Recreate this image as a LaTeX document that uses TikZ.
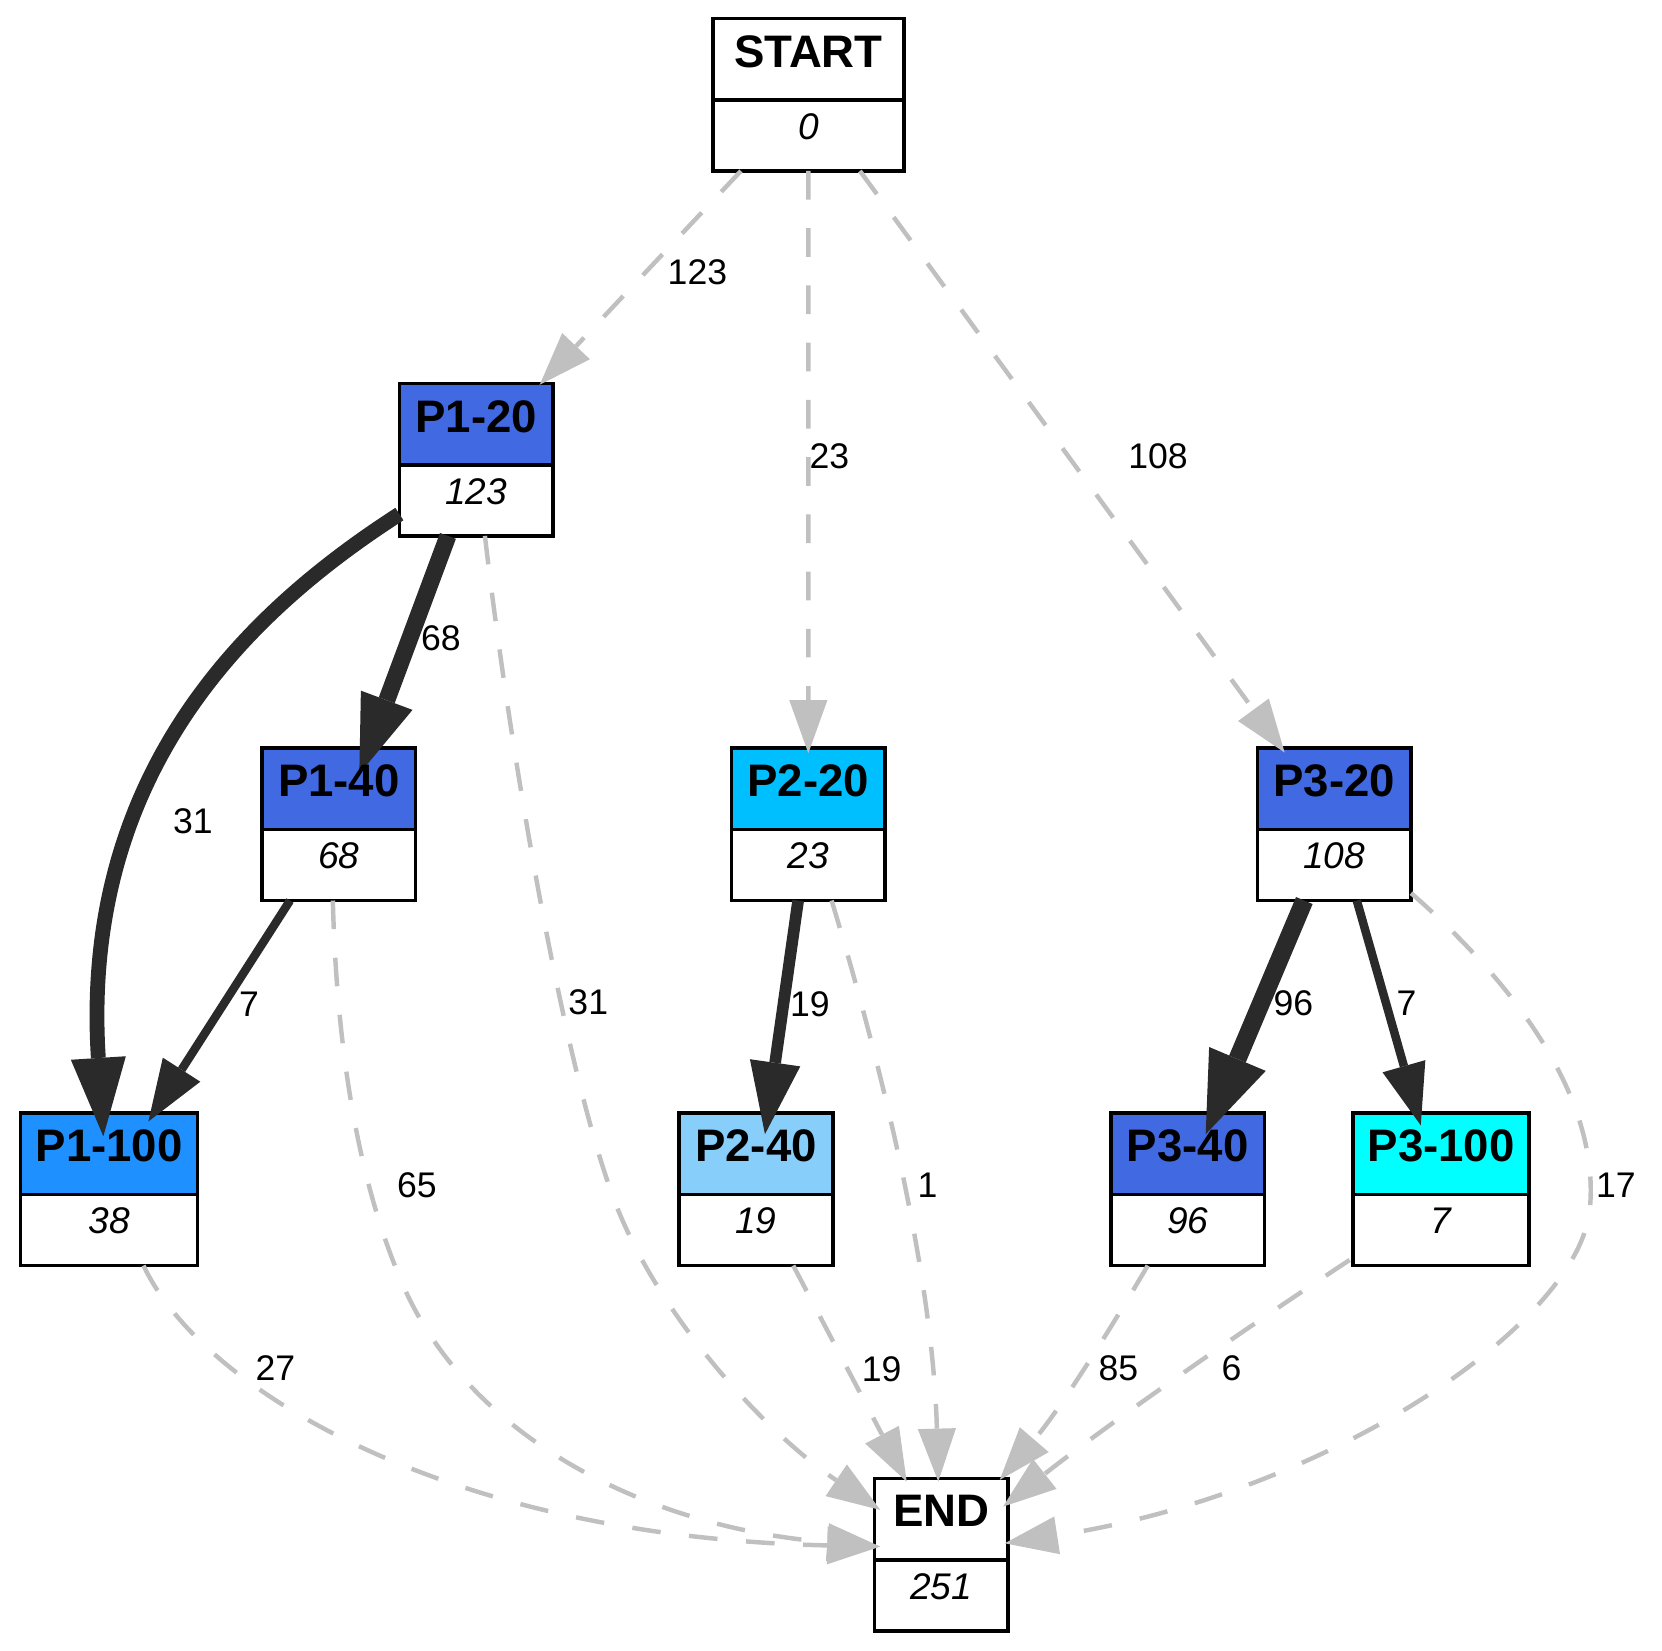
\documentclass[tikz,border=0pt]{standalone}
\usepackage{fontspec}
\setmainfont{Liberation Sans}
\usetikzlibrary{arrows.meta}

\definecolor{royal}{HTML}{4169E1}
\definecolor{dodger}{HTML}{1E90FF}
\definecolor{deepsky}{HTML}{00BFFF}
\definecolor{lightsky}{HTML}{87CEFA}
\definecolor{cyanfill}{HTML}{00FFFF}
\definecolor{flowdark}{HTML}{2A2A2A}
\definecolor{flowgrey}{HTML}{C0C0C0}

\pgfdeclarelayer{boxlayer}
\pgfdeclarelayer{edgelayer}
\pgfsetlayers{boxlayer,edgelayer,main}

\tikzset{
  boxline/.style={draw=black, line width=3.2pt},
  boxshape/.style={rectangle, inner sep=0pt, outer sep=0pt, minimum height=144pt},
  titletext/.style={inner sep=0pt, font=\fontsize{43}{50}\selectfont\bfseries},
  counttext/.style={inner sep=0pt, font=\fontsize{35}{42}\selectfont\itshape},
  elabel/.style={inner sep=0pt, font=\fontsize{33.6}{40}\selectfont},
  exitflow/.style={draw=flowgrey, line width=4.2pt, dash pattern=on 27pt off 27pt,
    -{Triangle[length=50pt, width=36pt, line width=0pt]}},
  flow/.style n args={3}{draw=flowdark, line width=#1,
    -{Triangle[length=#2, width=#3, line width=0pt]}},
}

% name, centre x, top y, width, header colour, title, count
\newcommand\procbox[7]{%
  \node[boxshape, minimum width=#4pt] (#1) at (#2,#3+72) {};
  \begin{pgfonlayer}{boxlayer}
    \fill[#5] (#1.north west) rectangle ([yshift=-77pt]#1.north east);
    \fill[white] ([yshift=-77pt]#1.north west) rectangle (#1.south east);
    \draw[boxline] ([yshift=-77pt]#1.north west) -- ([yshift=-77pt]#1.north east);
    \draw[boxline] (#1.north west) rectangle (#1.south east);
  \end{pgfonlayer}
  \node[titletext, anchor=base] (#1-title) at ([yshift=-46pt]#1.north) {#6};
  \node[counttext, anchor=base] (#1-count) at ([yshift=-114pt]#1.north) {#7};
}

\begin{document}
\begin{tikzpicture}[x=1pt, y=-1pt]
\useasboundingbox (0,0) rectangle (1568,1557);

% process boxes
\procbox{start}{762.7}{17.3}{180}{white}{START}{0}
\procbox{p120}{449.3}{361.6}{145}{royal}{P1-20}{123}
\procbox{p140}{319.7}{705.6}{145}{royal}{P1-40}{68}
\procbox{p220}{762.6}{705.6}{145}{deepsky}{P2-20}{23}
\procbox{p320}{1258.8}{705.6}{145}{royal}{P3-20}{108}
\procbox{p1100}{103}{1050}{167}{dodger}{P1-100}{38}
\procbox{p240}{713.2}{1050}{145}{lightsky}{P2-40}{19}
\procbox{p340}{1120.5}{1050}{145}{royal}{P3-40}{96}
\procbox{p3100}{1359.6}{1050}{166}{cyanfill}{P3-100}{7}
\procbox{endnode}{888}{1394.6}{126}{white}{END}{251}

\begin{pgfonlayer}{edgelayer}
% entries from START
\draw[exitflow] ([xshift=-63.7pt]start.south) -- ([xshift=-12.6pt,yshift=-1.4pt]p120.north east);
\draw[exitflow] (start.south) -- ([yshift=-5pt]p220.north);
\draw[exitflow] ([xshift=48.6pt]start.south) -- ([xshift=-46.8pt,yshift=-4.4pt]p320.north);

% from P1-20
\draw[flow={16pt}{74pt}{52pt}] ([xshift=-26.7pt]p120.south) -- ([xshift=19.3pt,yshift=-24.4pt]p140.north);
\draw[flow={14pt}{74pt}{52pt}] ([yshift=-51.4pt]p120.west) .. controls (245,570) and (75,720) .. ([xshift=-5.5pt,yshift=-22pt]p1100.north);
\draw[exitflow] ([xshift=8.2pt]p120.south) .. controls (480,700) and (530,1000) .. (579.4,1132)
  .. controls (620,1240) and (720,1350) .. ([xshift=5.4pt,yshift=42.1pt]endnode.west);

% from P1-40
\draw[flow={8pt}{58pt}{42pt}] ([xshift=-46.1pt]p140.south) -- ([xshift=37pt,yshift=-8pt]p1100.north);
\draw[exitflow] ([xshift=-5.7pt]p140.south) .. controls (318,1000) and (340,1120) .. (380,1212)
  .. controls (440,1350) and (600,1440) .. ([xshift=5.4pt,yshift=7.5pt]endnode.west);

% from P1-100
\draw[exitflow] ([xshift=32.4pt]p1100.south) .. controls (190,1310) and (420,1450) .. ([xshift=5.4pt,yshift=7.5pt]endnode.west);

% from P2-20
\draw[flow={11pt}{68pt}{48pt}] ([xshift=-9.6pt]p220.south) -- ([xshift=8.5pt,yshift=-20pt]p240.north);
\draw[exitflow] ([xshift=22pt]p220.south) .. controls (830,1000) and (880,1200) .. ([xshift=-2.8pt,yshift=-3.2pt]endnode.north);

% from P2-40
\draw[exitflow] ([xshift=35.2pt]p240.south) -- ([xshift=-32.6pt,yshift=-3.2pt]endnode.north);

% from P3-20
\draw[flow={17pt}{77pt}{58pt}] ([xshift=-28.25pt]p320.south) -- ([xshift=17pt,yshift=-20pt]p340.north);
\draw[flow={8pt}{58pt}{42pt}] ([xshift=21.25pt]p320.south) -- ([xshift=-19.2pt,yshift=-11.7pt]p3100.north);
\draw[exitflow] ([yshift=7pt]p320.south east) .. controls (1420,920) and (1510,1030) .. (1500,1140)
  .. controls (1490,1250) and (1250,1410) .. ([xshift=-3.1pt,yshift=10.6pt]endnode.east);

% from P3-40 and P3-100
\draw[exitflow] ([xshift=-37.7pt]p340.south) .. controls (1050,1250) and (1000,1330) .. ([xshift=-7.8pt,yshift=-1.6pt]endnode.north east);
\draw[exitflow] ([xshift=-3.3pt,yshift=5.3pt]p3100.south west) .. controls (1180,1250) and (1050,1340) .. ([xshift=-4.7pt,yshift=45.2pt]endnode.east);
\end{pgfonlayer}

% edge counts
\node[elabel] (l-s-p120) at (658,257) {123};
\node[elabel] (l-s-p220) at (782.5,430) {23};
\node[elabel] (l-s-p320) at (1092.5,430) {108};
\node[elabel] (l-p120-p140) at (416,602) {68};
\node[elabel] (l-p120-p1100) at (182,774.5) {31};
\node[elabel] (l-p140-p1100) at (235,947) {7};
\node[elabel] (l-p120-end) at (555,946) {31};
\node[elabel] (l-p140-end) at (393.4,1118) {65};
\node[elabel] (l-p220-p240) at (764,947) {19};
\node[elabel] (l-p220-end) at (875,1118) {1};
\node[elabel] (l-p320-p340) at (1220.3,946.8) {96};
\node[elabel] (l-p320-p3100) at (1326.9,946.8) {7};
\node[elabel] (l-p320-end) at (1524.5,1118) {17};
\node[elabel] (l-p1100-end) at (259.9,1290.6) {27};
\node[elabel] (l-p240-end) at (831.8,1291.5) {19};
\node[elabel] (l-p340-end) at (1055.2,1290.6) {85};
\node[elabel] (l-p3100-end) at (1161.9,1290.6) {6};
\end{tikzpicture}
\end{document}
